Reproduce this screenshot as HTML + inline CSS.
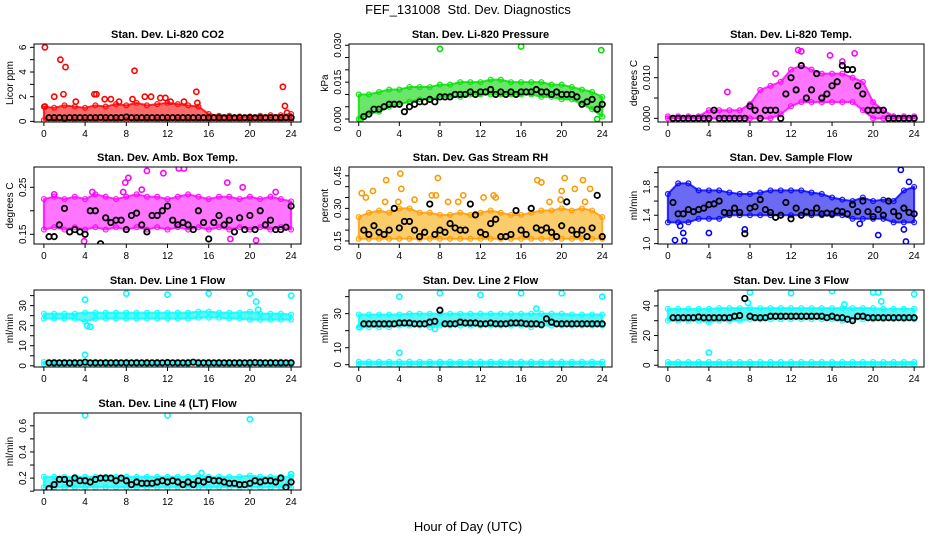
<!DOCTYPE html>
<html><head><meta charset="utf-8"><style>
html,body{margin:0;padding:0;background:#fff;}
svg{display:block;font-family:"Liberation Sans",sans-serif;}
</style></head><body>
<svg id="chart" width="936" height="540" viewBox="0 0 936 540" xmlns="http://www.w3.org/2000/svg">
<text x="468" y="14" text-anchor="middle" font-size="13">FEF_131008 &#160;Std. Dev. Diagnostics</text>
<text x="468" y="531" text-anchor="middle" font-size="13">Hour of Day (UTC)</text>
</svg>
<script>
// ---- data ----
const hours = [0,1,2,3,4,5,6,7,8,9,10,11,12,13,14,15,16,17,18,19,20,21,22,23,24];
const xTicks = [0,4,8,12,16,20,24];

const co2Lo = [0.1,0.1,0.1,0.1,0.1,0.1,0.1,0.1,0.1,0.1,0.1,0.1,0.1,0.1,0.1,0.1,0.1,0.1,0.1,0.1,0.1,0.1,0.1,0.1,0.1];
const co2Hi = [1.2,1.1,1.3,1.2,1.1,1.3,1.2,1.4,1.3,1.5,1.3,1.4,1.5,1.4,1.3,1.2,0.6,0.45,0.45,0.4,0.4,0.45,0.5,0.5,0.6];
const co2OutX = [0.1,0.1,1.0,1.6,2.1,1.9,3.1,4.9,5.1,5.9,6.5,7.3,8.8,8.6,9.8,10.4,11.3,11.8,12.3,13.6,14.8,14.9,23.2,23.4,23.6];
const co2OutY = [6.0,1.2,2.0,5.0,4.4,2.2,1.6,2.2,2.2,1.8,1.8,1.6,4.1,1.8,2.0,2.0,1.9,1.9,1.6,1.6,2.4,1.5,2.8,1.25,0.7];
const co2Black = [0.3,0.3,0.3,0.28,0.3,0.3,0.3,0.3,0.3,0.3,0.32,0.3,0.3,0.3,0.3,0.35,0.3,0.3,0.3,0.3,0.3,0.3,0.3,0.3,0.3,0.3,0.3,0.3,0.3,0.3,0.3,0.3,0.3,0.3,0.3,0.3,0.3,0.3,0.3,0.3,0.3,0.3,0.3,0.3,0.3,0.3,0.3,0.3];

const presLo = [0.0,0.002,0.003,0.005,0.006,0.007,0.008,0.008,0.009,0.009,0.009,0.010,0.010,0.010,0.010,0.010,0.010,0.010,0.009,0.009,0.008,0.008,0.006,0.004,0.001];
const presHi = [0.010,0.010,0.011,0.012,0.012,0.013,0.013,0.013,0.014,0.014,0.015,0.015,0.015,0.016,0.016,0.015,0.015,0.015,0.015,0.014,0.014,0.013,0.012,0.011,0.009];
const presOutX = [8,16,23.9,0.2,23.5];
const presOutY = [0.0285,0.0295,0.028,0.0,0.0];
const presBlack = [0.001,0.002,0.004,0.004,0.005,0.006,0.006,0.006,0.003,0.005,0.006,0.007,0.007,0.008,0.007,0.009,0.009,0.009,0.010,0.010,0.010,0.011,0.010,0.011,0.011,0.012,0.010,0.011,0.010,0.011,0.010,0.011,0.011,0.011,0.012,0.011,0.011,0.010,0.011,0.010,0.010,0.010,0.009,0.006,0.007,0.008,0.004,0.006];

const tempLo = [0,0,0,0,0,0,0,0,0,0,0,0.001,0.003,0.004,0.004,0.004,0.004,0.004,0.004,0.002,0,0,0,0,0];
const tempHi = [0.0005,0.0005,0.0005,0.0005,0.002,0.002,0.002,0.002,0.0035,0.007,0.008,0.009,0.012,0.013,0.012,0.011,0.011,0.011,0.010,0.009,0.004,0.002,0.0005,0.0005,0.0005];
const tempOutX = [5.8,12.7,13.0,18.2,17.0,15.8,10.5];
const tempOutY = [0.0065,0.0168,0.0165,0.016,0.014,0.0155,0.011];
const tempBlack = [0,0,0,0,0,0,0,0,0.002,0,0,0,0,0,0,0.003,0.002,0,0.002,0.002,0.002,0,0.006,0.010,0.007,0.013,0.005,0.007,0.011,0.005,0.006,0.008,0.009,0.013,0.012,0.012,0.008,0.006,0.002,0.002,0.002,0.002,0,0,0,0,0,0];

const ambLo = [0.16,0.165,0.16,0.165,0.16,0.165,0.16,0.165,0.16,0.165,0.16,0.165,0.16,0.165,0.16,0.165,0.16,0.165,0.16,0.165,0.16,0.165,0.16,0.165,0.16];
const ambHi = [0.225,0.23,0.225,0.23,0.225,0.235,0.23,0.225,0.23,0.235,0.23,0.23,0.225,0.23,0.235,0.23,0.225,0.23,0.23,0.225,0.23,0.225,0.23,0.225,0.22];
const ambOutX = [4.7,8.2,7.9,10.0,11.6,13.1,13.6,17.8,19.3,3.9,20.6,18.1,7.7,9.5,1.0,22.5];
const ambOutY = [0.24,0.27,0.26,0.285,0.28,0.29,0.29,0.26,0.25,0.135,0.137,0.14,0.24,0.245,0.235,0.24];
const ambBlack = [0.145,0.145,0.17,0.205,0.155,0.16,0.155,0.15,0.2,0.2,0.13,0.185,0.175,0.18,0.18,0.16,0.19,0.195,0.17,0.155,0.19,0.19,0.2,0.21,0.18,0.17,0.175,0.17,0.16,0.2,0.175,0.14,0.175,0.19,0.17,0.18,0.155,0.185,0.16,0.19,0.16,0.2,0.17,0.18,0.16,0.16,0.165,0.21];

const rhLo = [0.16,0.16,0.16,0.16,0.16,0.16,0.16,0.16,0.16,0.16,0.16,0.16,0.16,0.16,0.16,0.16,0.16,0.16,0.16,0.16,0.16,0.16,0.16,0.16,0.16];
const rhHi = [0.26,0.28,0.29,0.28,0.3,0.3,0.28,0.28,0.27,0.27,0.28,0.27,0.28,0.29,0.28,0.27,0.27,0.28,0.29,0.29,0.3,0.29,0.3,0.29,0.26];
const rhOutX = [0.3,0.7,1.4,2.7,2.6,4.1,4.2,3.9,5.5,7.8,7.2,7.6,8.8,9.8,10.3,12.3,13.3,13.5,17.6,18.0,18.8,19.9,20.3,20.0,21.3,22.1,22.8,22.3];
const rhOutY = [0.37,0.35,0.38,0.43,0.33,0.46,0.39,0.33,0.34,0.44,0.36,0.36,0.33,0.33,0.36,0.35,0.36,0.35,0.43,0.42,0.33,0.34,0.44,0.38,0.39,0.43,0.39,0.33];
const rhBlack = [0.2,0.18,0.22,0.19,0.18,0.2,0.3,0.21,0.24,0.24,0.2,0.17,0.19,0.32,0.18,0.2,0.19,0.23,0.21,0.2,0.2,0.32,0.27,0.19,0.18,0.23,0.25,0.17,0.17,0.18,0.29,0.2,0.18,0.3,0.21,0.2,0.21,0.19,0.17,0.22,0.33,0.2,0.18,0.2,0.17,0.21,0.36,0.17];

const flowLo = [1.3,1.3,1.3,1.35,1.35,1.35,1.4,1.4,1.4,1.4,1.4,1.4,1.4,1.4,1.4,1.4,1.4,1.4,1.35,1.35,1.35,1.35,1.3,1.3,1.3];
const flowHi = [1.7,1.85,1.85,1.75,1.75,1.75,1.72,1.7,1.7,1.72,1.75,1.75,1.75,1.75,1.72,1.7,1.65,1.62,1.6,1.65,1.6,1.62,1.6,1.75,1.8];
const flowOutX = [0.7,1.6,1.5,1.2,4.0,7.5,20.5,22.7,23.2,23.0,23.5,18.7];
const flowOutY = [1.05,1.04,1.15,1.25,1.15,1.2,1.12,2.04,1.03,1.2,1.87,1.28];
const flowBlack = [1.58,1.42,1.42,1.48,1.45,1.48,1.5,1.55,1.56,1.6,1.44,1.43,1.5,1.44,1.14,1.5,1.52,1.62,1.48,1.44,1.37,1.4,1.58,1.35,1.5,1.4,1.45,1.43,1.5,1.42,1.43,1.42,1.46,1.45,1.42,1.55,1.45,1.6,1.45,1.38,1.48,1.4,1.6,1.45,1.39,1.5,1.44,1.42];

const l1Lo = [23.5,23.5,23.5,23.5,22,23.5,23.5,23.5,23.5,23.5,23.5,23.5,23.5,23.5,23.5,24,24,24,23.5,23.5,23,23,23,23,23];
const l1Hi = [26,26,26,26,26.5,26.5,26.5,26.5,26.5,26.5,26.5,26.5,26.5,26.5,26.5,27,27,26.5,26.5,26.5,27,26,26,26,25.5];
const l1BaseLo = [0.8,0.8,0.8,0.8,0.8,0.8,0.8,0.8,0.8,0.8,0.8,0.8,0.8,0.8,0.8,0.8,0.8,0.8,0.8,0.8,0.8,0.8,0.8,0.8,0.8];
const l1BaseHi = [2,2,2,2,2,2,2,2,2,2,2,2,2,2,2,2,2,2,2,2,2,2,2,2,2];
const l1OutX = [4,4,4.2,4.5,8,12,16,20,20.6,20.8,24,1.2,23];
const l1OutY = [33,5.5,20,19.5,36,35.5,36,36,32,28,35,0.2,0.2];
const l1Black = [1.5,1.5,1.5,1.5,1.5,1.5,1.5,1.8,1.5,1.5,1.5,1.5,1.5,1.5,1.5,1.5,1.5,1.5,1.5,1.5,1.5,1.5,1.5,1.6,1.5,1.5,1.5,1.5,1.8,1.5,1.5,1.5,1.5,1.5,1.5,1.5,1.5,1.5,1.5,1.5,1.6,1.5,1.5,1.5,1.5,1.5,1.5,1.5];

const l2Lo = [22,22,22,22,23,23,23,22,23,23,23,23,23,23,23,23,23,22,23,23,23,23,23,23,23];
const l2Hi = [29.5,29.5,29.5,29.5,29.5,30,30,30,30,30,30,30,30,30,30,30,30,30,30,30,30,29.5,29.5,29.5,29.5];
const l2BaseLo = [0.3,0.3,0.3,0.3,0.3,0.3,0.3,0.3,0.3,0.3,0.3,0.3,0.3,0.3,0.3,0.3,0.3,0.3,0.3,0.3,0.3,0.3,0.3,0.3,0.3];
const l2BaseHi = [1.8,1.8,1.8,1.8,1.8,1.8,1.8,1.8,1.8,1.8,1.8,1.8,1.8,1.8,1.8,1.8,1.8,1.8,1.8,1.8,1.8,1.8,1.8,1.8,1.8];
const l2OutX = [4,4,8,12,16,20,24,17.5,7.5,0.1];
const l2OutY = [40,7,42,41,42,42,40,33,21,22];
const l2Black = [24,24,24,24,24,24,24,24.5,24.5,24.5,24,24,24,25,25.5,32,24,24,24,25,24.5,24.5,24.5,24,24,24.5,24,24,24,24.5,24.5,24.5,24,24,24,23.5,27,25,24,24,24,24,24,24,24,24,24,24];

const l3Lo = [30,30,30,30,29,30,30,30,31,31,31,31,31,31,31,31,31,30,31,31,31,31,31,31,31];
const l3Hi = [38,38,38,38,38,38.5,38.5,38.5,38.5,38.5,38.5,38.5,38.5,38.5,38.5,38.5,38.5,38.5,38.5,38.5,38.5,38,38,38,38];
const l3BaseLo = [0.3,0.3,0.3,0.3,0.3,0.3,0.3,0.3,0.3,0.3,0.3,0.3,0.3,0.3,0.3,0.3,0.3,0.3,0.3,0.3,0.3,0.3,0.3,0.3,0.3];
const l3BaseHi = [2.2,2.2,2.2,2.2,2.2,2.2,2.2,2.2,2.2,2.2,2.2,2.2,2.2,2.2,2.2,2.2,2.2,2.2,2.2,2.2,2.2,2.2,2.2,2.2,2.2];
const l3OutX = [4,8,12,16,20,20.5,20.8,24,7.8,17.2];
const l3OutY = [8.5,49,48.5,50,49,49,43,48,42,41];
const l3Black = [32,32,32,32,32,32.5,32,32,32,32,32,32,33,33.5,45,33,32,32,32,33,33,33,33,33,33,33,33,33,33,33,32,33,32,32,31,30,33,33,32,32,32,32,32,32,32,32,32,32];

const l4Lo = [0.13,0.13,0.13,0.13,0.13,0.13,0.13,0.13,0.13,0.13,0.13,0.13,0.13,0.13,0.13,0.13,0.13,0.13,0.13,0.13,0.13,0.13,0.13,0.13,0.13];
const l4Hi = [0.21,0.21,0.21,0.21,0.21,0.21,0.21,0.21,0.21,0.21,0.21,0.21,0.21,0.21,0.21,0.22,0.21,0.21,0.21,0.21,0.22,0.21,0.21,0.21,0.21];
const l4OutX = [4,12,20,15.3,24];
const l4OutY = [0.68,0.68,0.65,0.24,0.23];
const l4Black = [0.12,0.15,0.19,0.19,0.16,0.2,0.18,0.18,0.17,0.19,0.2,0.2,0.2,0.18,0.2,0.18,0.15,0.17,0.16,0.16,0.16,0.17,0.18,0.17,0.18,0.17,0.15,0.17,0.15,0.18,0.17,0.19,0.18,0.18,0.17,0.16,0.16,0.15,0.15,0.16,0.18,0.17,0.18,0.18,0.17,0.2,0.13,0.17];

// ---- layout ----
const colL = [34, 349, 658], colR = [301, 612, 924];
const rowT = [44, 167, 290, 413], rowB = [122, 244, 367, 490];
const panels = [
 {name:'co2',title:'Stan. Dev. Li-820 CO2',yl:'Licor ppm',c:0,r:0,ylim:[-0.05,6.27],ticks:[0,1,2,3,4,5,6],labs:[0,2,4,6],col:'#ff0000',fill:'#ff3030',bands:[[co2Lo,co2Hi]],ox:co2OutX,oy:co2OutY,bk:co2Black},
 {name:'pressure',title:'Stan. Dev. Li-820 Pressure',yl:'kPa',c:1,r:0,ylim:[-0.0012,0.0305],ticks:[0,0.005,0.01,0.015,0.02,0.025,0.03],labs:[0,0.015,0.03],fmt:3,col:'#00e000',fill:'#30dd30',bands:[[presLo,presHi]],ox:presOutX,oy:presOutY,bk:presBlack},
 {name:'temp',title:'Stan. Dev. Li-820 Temp.',yl:'degrees C',c:2,r:0,ylim:[-0.0009,0.0183],ticks:[0,0.005,0.01,0.015],labs:[0,0.01],fmt:3,col:'#ff00ff',fill:'#ff40ff',bands:[[tempLo,tempHi]],ox:tempOutX,oy:tempOutY,bk:tempBlack},
 {name:'amb-box',title:'Stan. Dev. Amb. Box Temp.',yl:'degrees C',c:0,r:1,ylim:[0.1293,0.2932],ticks:[0.15,0.2,0.25],labs:[0.15,0.25],fmt:2,col:'#ff00ff',fill:'#ff40ff',bands:[[ambLo,ambHi]],ox:ambOutX,oy:ambOutY,bk:ambBlack},
 {name:'rh',title:'Stan. Dev. Gas Stream RH',yl:'percent',c:1,r:1,ylim:[0.136,0.4906],ticks:[0.15,0.2,0.25,0.3,0.35,0.4,0.45],labs:[0.15,0.3,0.45],fmt:2,col:'#ff9900',fill:'#f8b830',bands:[[rhLo,rhHi]],ox:rhOutX,oy:rhOutY,bk:rhBlack},
 {name:'sample-flow',title:'Stan. Dev. Sample Flow',yl:'ml/min',c:2,r:1,ylim:[0.995,2.08],ticks:[1.0,1.2,1.4,1.6,1.8,2.0],labs:[1.0,1.4,1.8],fmt:1,col:'#0000ff',fill:'#3030ee',bands:[[flowLo,flowHi]],ox:flowOutX,oy:flowOutY,bk:flowBlack},
 {name:'line1-flow',title:'Stan. Dev. Line 1 Flow',yl:'ml/min',c:0,r:2,ylim:[-0.6,37.8],ticks:[0,5,10,15,20,25,30,35],labs:[0,10,20,30],col:'#00ffff',fill:'#22eeee',bands:[[l1Lo,l1Hi],[l1BaseLo,l1BaseHi]],ox:l1OutX,oy:l1OutY,bk:l1Black},
 {name:'line2-flow',title:'Stan. Dev. Line 2 Flow',yl:'ml/min',c:1,r:2,ylim:[-1.35,43.9],ticks:[0,10,20,30,40],labs:[0,10,30],col:'#00ffff',fill:'#22eeee',bands:[[l2Lo,l2Hi],[l2BaseLo,l2BaseHi]],ox:l2OutX,oy:l2OutY,bk:l2Black},
 {name:'line3-flow',title:'Stan. Dev. Line 3 Flow',yl:'ml/min',c:2,r:2,ylim:[-1.2,50.7],ticks:[0,10,20,30,40,50],labs:[0,20,40],col:'#00ffff',fill:'#22eeee',bands:[[l3Lo,l3Hi],[l3BaseLo,l3BaseHi]],ox:l3OutX,oy:l3OutY,bk:l3Black},
 {name:'line4-flow',title:'Stan. Dev. Line 4 (LT) Flow',yl:'ml/min',c:0,r:3,ylim:[0.109,0.698],ticks:[0.1,0.2,0.3,0.4,0.5,0.6],labs:[0.2,0.4,0.6],fmt:1,col:'#00ffff',fill:'#22eeee',bands:[[l4Lo,l4Hi]],ox:l4OutX,oy:l4OutY,bk:l4Black}
];

const NS = 'http://www.w3.org/2000/svg';
const svg = document.getElementById('chart');
function mk(tag, attrs, parent){const e=document.createElementNS(NS,tag);for(const k in attrs)e.setAttribute(k,attrs[k]);(parent||svg).appendChild(e);return e;}

panels.forEach(p=>{
  const L=colL[p.c],R=colR[p.c],T=rowT[p.r],B=rowB[p.r];
  const pxh=(R-L)/25.92;
  const xs=h=>L+pxh*(0.96+h);
  const ys=v=>B-(v-p.ylim[0])/(p.ylim[1]-p.ylim[0])*(B-T);
  const g=mk('g',{});
  
  
  const clip=mk('clipPath',{id:'clip-'+p.name},g);
  mk('rect',{x:L,y:T,width:R-L,height:B-T},clip);
  const data=mk('g',{'clip-path':'url(#clip-'+p.name+')'},g);
  
  
  p.bands.forEach(b=>{
    const lo=b[0],hi=b[1];
    let pts=[];
    hours.forEach((h,i)=>pts.push(xs(h)+','+ys(hi[i])));
    for(let i=hours.length-1;i>=0;i--)pts.push(xs(hours[i])+','+ys(lo[i]));
    const poly=mk('polygon',{points:pts.join(' '),fill:p.fill,'fill-opacity':0.72,stroke:p.col,'stroke-opacity':0.8,'stroke-width':2,'stroke-linejoin':'round'},data);
    
    
    hours.forEach((h,i)=>{
      [hi[i],lo[i]].forEach(v=>{
        const c=mk('circle',{cx:xs(h),cy:ys(v),r:2.4,fill:'none',stroke:p.col,'stroke-width':1.3,'stroke-opacity':0.85},data);
        
        
      });
    });
  });
  p.ox.forEach((x,i)=>{
    const c=mk('circle',{cx:xs(x),cy:ys(p.oy[i]),r:2.6,fill:'none',stroke:p.col,'stroke-width':1.6},data);
    
    
  });
  const n=p.bk.length;
  p.bk.forEach((v,i)=>{
    const c=mk('circle',{cx:xs(0.5+i*23.5/(n-1)),cy:ys(v),r:2.7,fill:'none',stroke:'#000','stroke-width':1.8},data);
    
    
  });
  const box=mk('rect',{x:L,y:T,width:R-L,height:B-T,fill:'none',stroke:'#000','stroke-width':1},g);
  
  
  mk('line',{x1:xs(0),x2:xs(24),y1:B,y2:B,stroke:'#000'},g);
  xTicks.forEach(t=>{
    mk('line',{x1:xs(t),x2:xs(t),y1:B,y2:B+4,stroke:'#000'},g);
    const tx=mk('text',{x:xs(t),y:B+15,'text-anchor':'middle','font-size':10},g);
    tx.textContent=t;
    
    
  });
  mk('line',{x1:L,x2:L,y1:ys(p.ticks[0]),y2:ys(p.ticks[p.ticks.length-1]),stroke:'#000'},g);
  p.ticks.forEach(t=>mk('line',{x1:L-4,x2:L,y1:ys(t),y2:ys(t),stroke:'#000'},g));
  p.labs.forEach(t=>{
    const tx=mk('text',{x:L-8,y:ys(t),'text-anchor':'middle','font-size':10,transform:'rotate(-90 '+(L-8)+' '+ys(t)+')'},g);
    tx.textContent=p.fmt?t.toFixed(p.fmt):t;
    
    
  });
  const yt=mk('text',{x:L-21,y:(T+B)/2,'text-anchor':'middle','font-size':10,transform:'rotate(-90 '+(L-21)+' '+((T+B)/2)+')'},g);
  yt.textContent=p.yl;
  
  
  const ti=mk('text',{x:(L+R)/2,y:T-6,'text-anchor':'middle','font-size':11,'font-weight':'bold'},g);
  ti.textContent=p.title;
  
  
});
</script>
</body></html>
